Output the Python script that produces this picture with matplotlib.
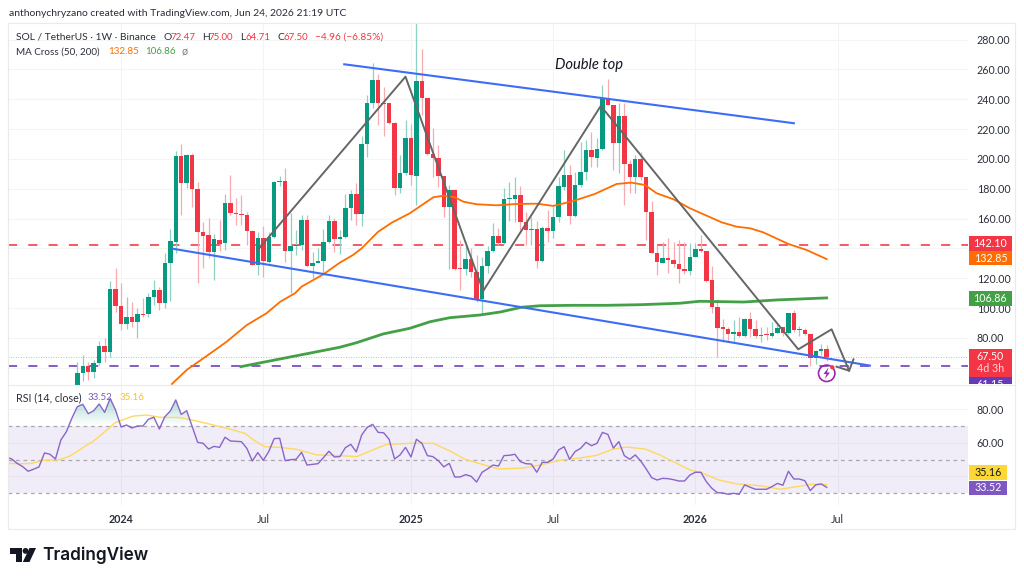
"""SOL / USDT weekly chart with MA cross and RSI panes."""

import matplotlib

matplotlib.use("Agg")

import matplotlib.pyplot as plt
import numpy as np
from matplotlib.patches import Circle, Polygon, Rectangle

plt.rcParams["font.family"] = ["Lato", "DejaVu Sans"]

# weekly candles, bar 0 is the first one visible
opens = [
    43.8, 56.4, 61.2, 57.4, 63.0, 74.9, 70.8, 112.6, 101.6, 89.4,
    93.9, 91.0, 96.1, 95.9, 107.7, 112.2, 103.2, 130.5, 144.5, 202.1,
    184.1, 202.6, 179.8, 151.2, 149.0, 137.8, 145.7, 143.5, 170.2, 163.6,
    163.1, 162.4, 151.7, 128.9, 146.8, 131.1, 147.9, 184.5, 185.2, 138.5,
    141.6, 142.3, 159.1, 128.2, 130.5, 131.6, 144.5, 158.6, 146.3, 147.5,
    167.3, 176.5, 162.9, 210.0, 237.7, 252.9, 237.3, 237.3, 224.3, 180.3,
    190.4, 213.8, 188.6, 252.4, 240.6, 203.3, 200.4, 188.6, 168.0, 179.2,
    126.7, 126.0, 132.9, 124.4, 106.0, 128.4, 138.3, 148.4, 143.5, 173.1,
    173.1, 175.8, 157.5, 152.6, 153.0, 131.8, 153.5, 151.9, 161.3, 181.4,
    189.2, 161.8, 182.5, 191.2, 206.0, 200.8, 206.4, 240.6, 236.1, 210.9,
    228.8, 196.6, 187.7, 199.7, 187.7, 164.6, 137.2, 130.5, 133.4, 132.3,
    129.6, 126.0, 125.1, 134.5, 139.8, 138.1, 118.9, 100.6, 87.2, 86.2,
    82.9, 84.0, 81.3, 92.5, 86.0, 81.6, 82.2, 81.6, 83.6, 87.2,
    83.2, 96.6, 85.2, 85.4, 82.5, 66.4, 71.3, 72.47,
]
closes = [
    56.4, 61.2, 57.4, 63.0, 74.9, 70.8, 112.6, 101.6, 89.4, 93.9,
    91.0, 96.1, 95.6, 107.7, 112.2, 103.2, 130.5, 144.8, 202.1, 184.1,
    202.6, 179.8, 151.2, 148.6, 137.8, 146.1, 143.0, 170.2, 163.6, 162.9,
    162.4, 151.7, 128.9, 146.8, 131.6, 147.9, 184.7, 185.2, 138.5, 141.6,
    142.3, 159.1, 128.2, 130.5, 131.6, 144.5, 158.6, 146.3, 147.5, 167.3,
    176.5, 162.9, 210.0, 237.7, 252.9, 237.3, 236.8, 224.3, 180.3, 190.4,
    213.8, 189.2, 252.4, 240.6, 203.3, 200.4, 188.6, 168.0, 179.2, 126.0,
    126.0, 132.9, 124.4, 105.5, 128.4, 138.3, 148.4, 143.5, 173.1, 173.6,
    175.8, 157.5, 152.4, 153.0, 131.8, 153.5, 151.9, 161.3, 181.8, 189.2,
    161.8, 182.5, 191.2, 206.0, 201.1, 206.4, 240.6, 236.1, 210.5, 228.8,
    196.6, 187.7, 199.7, 187.7, 164.6, 137.2, 130.7, 133.4, 132.3, 129.6,
    126.0, 125.1, 134.5, 139.8, 138.1, 118.4, 100.6, 86.5, 86.2, 82.7,
    84.0, 81.3, 92.7, 86.0, 81.3, 82.0, 81.8, 83.6, 86.9, 83.6,
    96.6, 85.4, 85.8, 82.5, 66.4, 71.3, 72.4, 67.50,
]
highs = [
    64.1, 68.6, 64.1, 65.3, 78.0, 79.8, 118.2, 126.7, 116.6, 107.3,
    104.3, 99.9, 106.6, 110.0, 118.9, 114.4, 137.2, 152.8, 205.0, 210.0,
    203.3, 204.2, 184.7, 157.9, 160.4, 149.7, 159.1, 176.5, 189.2, 173.8,
    175.8, 164.4, 152.4, 151.0, 155.0, 151.0, 185.2, 188.5, 193.7, 163.8,
    152.4, 162.4, 162.4, 137.8, 140.3, 153.0, 162.4, 160.4, 152.4, 176.5,
    179.2, 183.9, 215.4, 242.8, 264.5, 256.9, 248.4, 237.5, 224.9, 202.6,
    226.1, 223.4, 295.0, 273.4, 240.8, 220.5, 209.3, 188.6, 182.5, 179.8,
    145.7, 142.3, 140.3, 135.6, 134.3, 141.6, 157.1, 153.7, 180.5, 184.7,
    188.1, 181.8, 164.6, 161.3, 158.6, 155.3, 165.8, 168.0, 188.1, 206.0,
    195.9, 191.2, 211.5, 212.7, 218.2, 213.8, 249.5, 253.3, 236.1, 237.3,
    237.7, 199.3, 202.6, 204.8, 188.2, 172.0, 142.3, 144.5, 146.8, 144.5,
    145.7, 144.5, 143.7, 143.9, 149.0, 138.3, 128.2, 106.0, 92.7, 87.6,
    92.0, 94.3, 93.4, 97.6, 92.0, 87.6, 87.6, 90.9, 90.0, 87.6,
    96.8, 98.8, 88.0, 86.9, 82.5, 72.0, 75.9, 75.00,
]
lows = [
    41.1, 51.4, 51.9, 53.0, 61.9, 64.1, 67.5, 97.6, 85.4, 85.8,
    87.6, 79.8, 94.3, 93.9, 102.1, 98.8, 99.9, 105.0, 137.0, 162.4,
    180.5, 168.0, 116.9, 126.9, 133.6, 118.9, 138.5, 139.0, 162.4, 155.7,
    155.7, 142.3, 128.9, 122.2, 121.1, 130.2, 147.0, 181.8, 131.1, 110.2,
    135.6, 139.0, 127.6, 120.2, 130.2, 122.2, 143.7, 137.8, 136.3, 146.7,
    159.1, 155.7, 155.3, 201.5, 234.1, 222.7, 215.4, 223.4, 175.8, 177.0,
    189.2, 182.5, 169.1, 229.4, 202.6, 188.1, 181.4, 161.3, 126.2, 125.6,
    112.2, 122.2, 120.9, 104.3, 96.1, 123.6, 137.8, 142.3, 143.3, 158.6,
    157.9, 152.4, 142.3, 142.3, 126.7, 131.0, 144.5, 146.8, 157.9, 179.2,
    156.4, 161.1, 181.4, 185.9, 194.8, 194.8, 206.0, 236.1, 192.6, 190.6,
    169.1, 177.1, 177.0, 185.9, 145.7, 136.8, 122.2, 130.1, 123.4, 127.8,
    116.9, 122.9, 122.2, 134.1, 137.8, 117.5, 96.6, 67.5, 77.1, 77.5,
    77.5, 80.9, 80.9, 80.9, 79.8, 77.5, 78.7, 80.9, 83.4, 81.6,
    82.7, 84.2, 81.6, 82.0, 61.4, 62.6, 68.6, 64.71,
]

ma50_bars = [
    17.3, 20.0, 23.9, 27.3, 31.0, 34.6, 37.1, 39.8, 41.0, 45.0, 48.0, 50.4, 52.0, 55.0,
    57.5, 60.8, 63.0, 65.1, 66.9, 69.0, 70.6, 73.0, 76.7, 80.3, 84.0, 87.0, 90.7, 94.6,
    98.6, 101.3, 103.8, 105.9, 109.0, 112.0, 117.8, 120.5, 123.0, 125.4, 130.0, 133.3, 137.0,
]
ma50_vals = [
    49.2, 58.6, 68.6, 77.5, 88.7, 96.6, 104.3, 110.0, 114.4, 122.7, 130.5, 135.6, 140.1, 151.2,
    157.3, 163.6, 169.1, 174.3, 175.3, 174.3, 171.3, 169.6, 168.9, 169.8, 170.0, 168.5, 171.8, 176.5,
    183.2, 184.1, 182.5, 177.0, 172.9, 166.9, 157.5, 154.6, 153.5, 150.8, 143.0, 139.0, 132.85,
]
ma200_bars = [
    29.9, 37.7, 48.0, 51.1, 55.9, 60.8, 64.5, 68.1, 73.6, 77.3,
    81.2, 84.6, 90.7, 96.8, 102.9, 110.2, 113.8, 121.8, 127.9, 137.0,
]
ma200_vals = [
    60.8, 66.4, 73.8, 76.9, 82.7, 86.5, 90.9, 93.6, 95.4, 97.4,
    100.6, 101.6, 101.9, 101.9, 102.3, 103.3, 104.6, 104.1, 105.5, 106.86,
]

# trendlines and the hand drawn zigzag
upper_trend_bars = [48.8, 131.0]
upper_trend_vals = [263.4, 223.9]
lower_trend_bars = [17.3, 144.9]
lower_trend_vals = [139.9, 61.5]
zigzag_bars = [33.0, 60.0, 74.2, 95.7, 131.8, 137.9, 141.1]
zigzag_vals = [139.0, 255.1, 111.5, 235.5, 72.4, 85.8, 58.1]
arrow_bars = [138.8, 141.1, 141.9]
arrow_vals = [60.8, 58.1, 65.7]

resistance = 142.10
support = 61.15
last_close = 67.50

# RSI runs on consecutive bars ending at the last candle
rsi_vals = [
    51.6, 50.4, 47.8, 45.9, 43.1, 44.3, 45.7, 54.0, 53.2, 50.4, 61.7, 66.6, 74.6, 81.5, 82.9, 77.3,
    79.1, 83.1, 78.1, 86.4, 79.5, 69.4, 70.6, 68.8, 70.0, 70.0, 74.0, 75.2, 68.2, 75.5, 78.9, 85.5,
    76.9, 79.1, 69.6, 60.3, 59.7, 56.3, 57.9, 57.3, 63.3, 61.1, 60.9, 60.7, 56.7, 49.2, 54.2, 49.6,
    54.8, 62.5, 62.7, 49.4, 50.0, 50.2, 54.4, 46.8, 47.2, 47.6, 51.2, 55.0, 51.6, 51.8,
    57.1, 59.1, 54.6, 64.7, 69.2, 71.0, 66.2, 66.0, 62.1, 50.4, 52.8, 57.3, 51.6, 62.1, 59.7, 52.4,
    51.8, 49.4, 45.7, 47.8, 39.7, 39.7, 41.1, 40.1, 36.7, 42.5, 44.5, 46.8, 46.2, 52.4, 52.6, 53.2,
    48.8, 47.6, 47.4, 42.5, 48.4, 48.4, 50.4, 55.8, 57.7, 50.2, 54.8, 56.7, 60.3, 58.3, 59.7, 66.2,
    65.0, 56.9, 60.7, 52.4, 50.2, 52.8, 49.2, 44.5, 39.3, 37.9, 38.9, 38.7, 38.1, 37.3,
    37.3, 40.9, 42.5, 42.5, 36.9, 33.0, 30.4, 30.2, 29.4, 30.0, 29.4, 35.0, 33.6, 32.4, 32.4, 32.4,
    34.0, 35.9, 34.8, 43.1, 38.5, 38.5, 37.5, 31.6, 35.0, 35.6, 33.52,
]
rsi_ma_bars = [
    -13.0, -10.5, -8.3, -6.2, -3.2, -1.3, 0.8, 2.9, 5.4, 6.9, 10.2, 12.7, 15.1, 18.8, 21.2, 24.9,
    28.5, 30.7, 32.2, 34.3, 37.1, 40.1, 43.8, 48.0, 51.1, 54.1, 56.6, 60.8, 65.1, 68.1, 70.9, 73.6,
    77.0, 81.5, 84.6, 88.2, 91.9, 95.0, 98.0, 100.4, 103.8, 106.5, 110.2, 112.0, 114.4, 117.2,
    120.5, 125.1, 128.5, 131.2, 134.3, 137.0,
]
rsi_ma_vals = [
    47.8, 47.6, 47.8, 49.6, 50.0, 52.2, 56.7, 60.9, 67.6, 72.0, 75.9, 76.5, 75.2, 75.0, 73.4, 70.6,
    67.6, 65.6, 61.7, 57.7, 57.3, 56.1, 52.8, 52.4, 51.8, 55.9, 59.1, 59.7, 59.7, 55.2, 50.2, 47.6,
    44.5, 45.0, 46.8, 49.6, 51.0, 52.6, 56.3, 57.5, 56.3, 52.8, 46.8, 43.9, 41.9, 38.0,
    35.6, 34.4, 32.4, 33.8, 35.4, 35.16,
]

time_ticks = [8, 34, 61, 87, 113, 139]
time_labels = ["2024", "Jul", "2025", "Jul", "2026", "Jul"]
price_ticks = list(range(60, 281, 20))
rsi_ticks = [40, 60, 80]
# levels whose axis labels sit behind the value tags
price_unlabeled = [60, 140]
rsi_unlabeled = [40]

UP = "#089981"
DOWN = "#f23645"
UP_WICK = "#8fd0c2"
DOWN_WICK = "#f9a9b0"
ORANGE = "#ff6d00"
MA_GREEN = "#43a047"
BLUE = "#3d6cf6"
GRAY = "#666666"
PURPLE = "#7e57c2"
YELLOW = "#fdd835"
GRID = "#f3f4f6"
TEXT = "#2a2e39"
FONT_SIZE = 7.7

W, H = 1024, 581
PANE_L, PANE_R = 8, 968
MAIN_T, MAIN_B = 23, 385
RSI_B = 505
BAR_X0, BAR_DX = 77.3, 5.47


def pane(top, bottom):
    ax = fig.add_axes(
        [PANE_L / W, 1 - bottom / H, (PANE_R - PANE_L) / W, (bottom - top) / H]
    )
    ax.set_xlim((PANE_L - BAR_X0) / BAR_DX, (PANE_R - BAR_X0) / BAR_DX)
    ax.set_xticks(time_ticks)
    ax.grid(True, color=GRID, linewidth=0.8)
    ax.set_axisbelow(True)
    for spine in ax.spines.values():
        spine.set_visible(False)
    ax.yaxis.tick_right()
    ax.tick_params(axis="y", length=0, pad=6.2, labelsize=FONT_SIZE, labelcolor=TEXT)
    ax.tick_params(axis="x", length=0)
    return ax


fig = plt.figure(figsize=(W / 100, H / 100), dpi=100, facecolor="white")

# price pane
ax = pane(MAIN_T, MAIN_B)
ax.set_ylim(48.5, 291.06)
ax.set_yticks(price_ticks)
ax.set_yticklabels(["" if p in price_unlabeled else f"{p:.2f}" for p in price_ticks])
ax.tick_params(axis="x", labelbottom=False)

bars = np.arange(len(closes))
o, c = np.array(opens), np.array(closes)
rising = c >= o
ax.vlines(
    bars, lows, highs, linewidth=0.9, zorder=3,
    colors=[UP_WICK if r else DOWN_WICK for r in rising],
)
ax.bar(
    bars, np.maximum(np.abs(c - o), 0.7), bottom=np.minimum(o, c), width=0.82, zorder=4,
    color=[UP if r else DOWN for r in rising], linewidth=0,
)

dash = (0, (5.7, 7.0))
ax.axhline(resistance, color=DOWN, linewidth=1.15, linestyle=dash, zorder=2)
ax.axhline(support, color="#673ab7", linewidth=1.15, linestyle=dash, zorder=2)
ax.axhline(last_close, color=DOWN, linewidth=0.6, linestyle=(0, (1, 2)), alpha=0.6, zorder=2)

ax.plot(ma50_bars, ma50_vals, color=ORANGE, linewidth=1.3, zorder=5)
ax.plot(ma200_bars, ma200_vals, color=MA_GREEN, linewidth=2.0, zorder=5)
ax.plot(upper_trend_bars, upper_trend_vals, color=BLUE, linewidth=1.5, zorder=6)
ax.plot(lower_trend_bars, lower_trend_vals, color=BLUE, linewidth=1.5, zorder=6)
ax.plot(zigzag_bars, zigzag_vals, color=GRAY, linewidth=1.4, zorder=7)
ax.plot(arrow_bars, arrow_vals, color=GRAY, linewidth=1.4, zorder=7)
ax.text(
    0.5698, 0.885, "Double top", transform=ax.transAxes, ha="left", va="center",
    fontsize=10.6, fontstyle="italic", color="#131722",
)

# RSI pane
rsi_ax = pane(MAIN_B, RSI_B)
rsi_ax.set_ylim(23.05, 94.37)
rsi_ax.set_yticks(rsi_ticks)
rsi_ax.set_yticklabels(["" if v in rsi_unlabeled else f"{v:.2f}" for v in rsi_ticks])
rsi_ax.set_xticklabels(time_labels)
rsi_ax.tick_params(axis="x", pad=6.2, labelsize=FONT_SIZE, labelcolor=TEXT)
for label in rsi_ax.get_xticklabels():
    if label.get_text().isdigit():
        label.set_fontweight("bold")

rsi_ax.axhspan(30, 70, color=PURPLE, alpha=0.11, linewidth=0, zorder=1)
for level in (30, 50, 70):
    rsi_ax.axhline(level, color="#a9a9ae", linewidth=0.9, linestyle=(0, (3, 3)), zorder=2)

rsi_bars = np.arange(len(closes) - len(rsi_vals), len(closes))
rsi = np.array(rsi_vals)
# overbought stretch fades from green at the peaks to nothing at 70
shape = rsi_ax.fill_between(rsi_bars, 70, np.clip(rsi, 70, None), facecolor="none", linewidth=0)
fade = np.zeros((64, 2, 4))
fade[..., :3] = matplotlib.colors.to_rgb(UP)
fade[..., 3] = np.linspace(0.38, 0.0, 64)[:, None]
image = rsi_ax.imshow(
    fade, extent=[rsi_bars[0], rsi_bars[-1], 70, 88], aspect="auto", zorder=2, origin="upper",
)
image.set_clip_path(shape.get_paths()[0], transform=rsi_ax.transData)
rsi_ax.set_xlim((PANE_L - BAR_X0) / BAR_DX, (PANE_R - BAR_X0) / BAR_DX)
rsi_ax.set_ylim(23.05, 94.37)

rsi_ax.plot(rsi_ma_bars, rsi_ma_vals, color="#ffd95e", linewidth=1.0, zorder=4)
rsi_ax.plot(rsi_bars, rsi, color=PURPLE, linewidth=1.0, zorder=5, alpha=0.9)

# full figure layer in pixel coordinates for frame, tags, captions and logo
top = fig.add_axes([0, 0, 1, 1], zorder=10)
top.set_xlim(0, W)
top.set_ylim(H, 0)
top.axis("off")
top.patch.set_alpha(0)

top.add_patch(Rectangle((8, 23), 1007, 506, fill=False, edgecolor="#e9eaec", linewidth=0.8))
top.plot([8, 1015], [MAIN_B, MAIN_B], color="#e9eaec", linewidth=0.8)


def caption(x, y, text, color=TEXT, size=FONT_SIZE, **kw):
    return top.text(x, y, text, color=color, fontsize=size, va="center", ha="left", **kw)


def price_px(axis, value):
    return H - axis.transData.transform((0, value))[1]


def tag(axis, value, shift, height, label, color, right=1011.5, text_color="white"):
    y_mid = price_px(axis, value) + shift
    top.add_patch(Rectangle((969.3, y_mid - height / 2), right - 969.3, height, color=color, linewidth=0))
    top.text(
        (969.3 + right) / 2, y_mid, label, color=text_color, fontsize=FONT_SIZE, ha="center", va="center",
    )


fig.canvas.draw()
tag(ax, resistance, -1.4, 15.4, "142.10", DOWN)
tag(ax, ma50_vals[-1], -1.0, 14.4, "132.85", ORANGE)
tag(ax, ma200_vals[-1], 0.3, 15.0, "106.86", MA_GREEN)

# last price tag holds the close and the bar countdown
close_y = price_px(ax, last_close)
top.add_patch(Rectangle((969.3, close_y - 8), 42.2, 28, color=DOWN, linewidth=0))
top.text(990.4, close_y, f"{last_close:.2f}", color="white", fontsize=FONT_SIZE, ha="center", va="center")
top.text(990.4, close_y + 12, "4d 3h", color="#ffd5d9", fontsize=FONT_SIZE, ha="center", va="center")

# support tag is cut off by the pane edge
support_clip = Rectangle((969.3, close_y + 20), 42.2, MAIN_B - 1 - close_y - 20, transform=top.transData)
top.add_patch(Rectangle((969.3, close_y + 20), 42.2, MAIN_B - 1 - close_y - 20, color="#673ab7", linewidth=0))
support_text = top.text(
    990.4, close_y + 28, f"{support:.2f}", color="white", fontsize=FONT_SIZE, ha="center", va="center",
)
support_text.set_clip_path(support_clip)

tag(rsi_ax, rsi_ma_vals[-1], -12.1, 15.0, "35.16", YELLOW, right=1006.5, text_color="#131722")
tag(rsi_ax, rsi_vals[-1], 0.4, 14.4, "33.52", PURPLE, right=1006.5)

# header and legends
caption(9, 13.5, "anthonychryzano created with TradingView.com, Jun 24, 2026 21:19 UTC", size=7.45)
caption(16, 37, "SOL / TetherUS · 1W · Binance", size=7.4)
for x_letter, letter, x_val, value in [
    (163, "O", 170, "72.47"),
    (202, "H", 208, "75.00"),
    (240, "L", 245, "64.71"),
    (277, "C", 283, "67.50"),
]:
    caption(x_letter, 37, letter, size=7.4)
    caption(x_val, 37, value, color=DOWN, size=7.0)
caption(315, 37, "−4.96 (−6.85%)", color=DOWN, size=7.3)
caption(16, 52, "MA Cross (50, 200)", size=7.1)
caption(108, 52, "132.85", color=ORANGE, size=7.0)
caption(145, 52, "106.86", color=MA_GREEN, size=7.0)
caption(182, 52, "ø", color="#787b86")
caption(16, 398, "RSI (14, close)", size=7.7)
caption(88, 398, "33.52", color=PURPLE, size=7.0)
caption(120, 398, "35.16", color="#fbc02d", size=7.0)

# alert badge below the last candle
top.add_patch(Circle((826.7, 373.3), 8.2, fill=False, edgecolor="#9c27b0", linewidth=1.2))
top.add_patch(Polygon(
    [(828.5, 367.5), (823.5, 374), (826.5, 374), (824.8, 379), (830, 372.5), (827, 372.5)],
    closed=True, color="#9c27b0", linewidth=0,
))
top.add_patch(Circle((832.3, 367.3), 2.1, color=DOWN, linewidth=0))

# wordmark
logo = "#131722"
top.add_patch(Polygon(
    [(10, 548), (21.5, 548), (21.5, 562), (15.5, 562), (15.5, 553.5), (10, 553.5)],
    closed=True, color=logo, linewidth=0,
))
top.add_patch(Circle((25.5, 550.9), 2.9, color=logo, linewidth=0))
top.add_patch(Polygon(
    [(29.5, 548), (36, 548), (29.5, 562), (22.8, 562)], closed=True, color=logo, linewidth=0,
))
top.text(42.5, 555, "TradingView", color=logo, fontsize=12.4, fontfamily="Inter", fontweight="semibold",
         va="center", ha="left")

fig.savefig("out.png", dpi=100)
plt.close(fig)
